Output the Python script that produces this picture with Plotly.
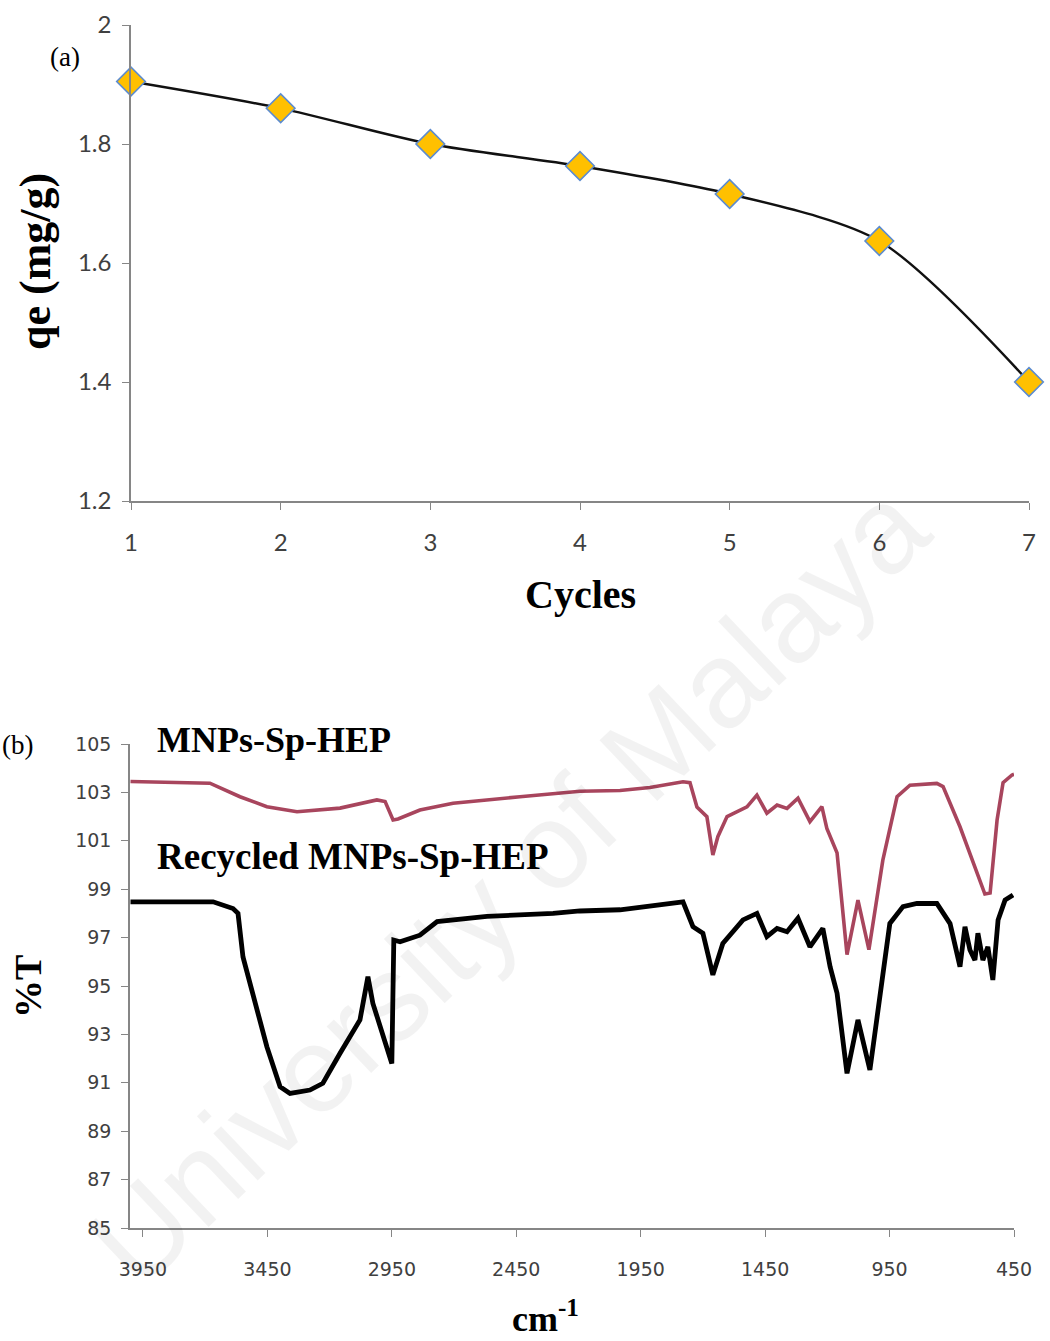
import plotly.graph_objects as go

# ---- (a) adsorption capacity over reuse cycles ----
cycles = [1, 2, 3, 4, 5, 6, 7]
qe_values = [1.905, 1.860, 1.800, 1.763, 1.716, 1.637, 1.400]

# ---- (b) FTIR spectra (wavenumber in cm-1, %T) ----
fresh_wn = [4000, 3681, 3560, 3452, 3331, 3158, 3010, 2977, 2945, 2925, 2837, 2704,
            2435, 2194, 2033, 1913, 1780, 1752, 1724, 1684, 1660, 1640, 1603, 1523,
            1483, 1443, 1402, 1362, 1318, 1270, 1222, 1202, 1161, 1121, 1077, 1033,
            977, 920, 868, 760, 735, 667, 567, 546, 518, 494, 458, 450]
fresh_t = [103.45, 103.38, 102.82, 102.41, 102.20, 102.35, 102.69, 102.62, 101.86, 101.90,
           102.27, 102.55, 102.82, 103.05, 103.08, 103.20, 103.44, 103.40, 102.40, 102.00,
           100.41, 101.17, 102.00, 102.40, 102.89, 102.14, 102.48, 102.34, 102.76, 101.79,
           102.41, 101.51, 100.50, 96.30, 98.55, 96.50, 100.20, 102.82, 103.30, 103.37,
           103.24, 101.58, 98.80, 98.84, 101.86, 103.40, 103.72, 103.75]

recycled_wn = [4000, 3668, 3588, 3568, 3548, 3508, 3452, 3399, 3359, 3279, 3227, 3158,
               3078, 3046, 3026, 2950, 2942, 2917, 2837, 2768, 2568, 2302, 2194,
               2033, 1780, 1740, 1700, 1660, 1620, 1539, 1483, 1443, 1402, 1362, 1318,
               1270, 1218, 1189, 1161, 1121, 1077, 1029, 989, 949, 896, 840, 760, 707,
               667, 647, 627, 607, 595, 575, 555, 535, 514, 486, 454]
recycled_t = [98.48, 98.48, 98.20, 98.00, 96.20, 94.70, 92.49, 90.84, 90.56, 90.70,
              90.98, 92.22, 93.60, 95.38, 94.28, 91.80, 96.90, 96.83, 97.10, 97.66,
              97.88, 98.00, 98.10, 98.15, 98.48, 97.45, 97.18, 95.46, 96.76,
              97.73, 98.00, 97.04, 97.38, 97.24, 97.80, 96.62, 97.38, 95.80, 94.70,
              91.39, 93.60, 91.53, 94.56, 97.58, 98.28, 98.41, 98.41, 97.58, 95.80,
              97.45, 96.49, 96.07, 97.18, 96.07, 96.62, 95.25, 97.73, 98.55, 98.76]

qe_ticks = [1.2, 1.4, 1.6, 1.8, 2]
t_ticks = list(range(85, 106, 2))
wn_ticks = [3950, 3450, 2950, 2450, 1950, 1450, 950, 450]

W, H = 1050, 1341


def px_x(p):
    return p / W


def px_y(p):
    return 1 - p / H


fig = go.Figure()

fig.add_trace(go.Scatter(
    x=cycles, y=qe_values, mode="lines+markers",
    line=dict(color="#111111", width=2.4, shape="spline", smoothing=0.8),
    marker=dict(symbol="diamond", size=22, color="#FFC000",
                line=dict(color="#5B8BD0", width=1.6)),
    xaxis="x", yaxis="y", showlegend=False, cliponaxis=False,
))

fig.add_trace(go.Scatter(
    x=fresh_wn, y=fresh_t, mode="lines",
    line=dict(color="#a8455d", width=3.6),
    xaxis="x2", yaxis="y2", showlegend=False,
))
fig.add_trace(go.Scatter(
    x=recycled_wn, y=recycled_t, mode="lines",
    line=dict(color="#000000", width=4.8),
    xaxis="x2", yaxis="y2", showlegend=False,
))

axis_line = "#868686"
tick_font_a = dict(family="Lato, Open Sans, sans-serif", size=24, color="#404040")
tick_font_b = dict(family="DejaVu Sans, Verdana, sans-serif", size=19, color="#404040")

common = dict(ticks="outside", ticklen=7, tickcolor=axis_line, showline=True,
              linecolor=axis_line, linewidth=1.5, showgrid=False, zeroline=False,
              automargin=False)

fig.update_layout(
    width=W, height=H, autosize=False,
    margin=dict(l=0, r=0, t=0, b=0, pad=0, autoexpand=False),
    paper_bgcolor="white", plot_bgcolor="white",
    xaxis=dict(domain=[px_x(131), px_x(1029)], anchor="y", range=[1, 7],
               tickvals=cycles, tickfont=tick_font_a, ticklabelstandoff=12, **common),
    yaxis=dict(domain=[px_y(501), px_y(25)], anchor="x", range=[1.2, 2],
               tickvals=qe_ticks, tickfont=tick_font_a, ticklabelstandoff=6, **common),
    xaxis2=dict(domain=[px_x(130), px_x(1014)], anchor="y2", range=[4002, 450],
                tickvals=wn_ticks, tickfont=tick_font_b, ticklabelstandoff=16, **common),
    yaxis2=dict(domain=[px_y(1228), px_y(744)], anchor="x2", range=[85, 105],
                tickvals=t_ticks, tickfont=tick_font_b, ticklabelstandoff=6, **common),
)

serif = "Liberation Serif, Times New Roman, serif"
labels = [
    dict(text="(a)", x=px_x(48), y=px_y(57), xanchor="left", yanchor="middle",
         font=dict(family=serif, size=27, color="black")),
    dict(text="<b>Cycles</b>", x=px_x(580), y=px_y(594), xanchor="center", yanchor="middle",
         font=dict(family=serif, size=40, color="black")),
    dict(text="<b>qe (mg/g)</b>", x=px_x(35), y=px_y(262), xanchor="center", yanchor="middle",
         textangle=-90, font=dict(family=serif, size=44, color="black")),
    dict(text="(b)", x=px_x(0), y=px_y(745), xanchor="left", yanchor="middle",
         font=dict(family=serif, size=27, color="black")),
    dict(text="<b>MNPs-Sp-HEP</b>", x=px_x(155), y=px_y(740), xanchor="left", yanchor="middle",
         font=dict(family=serif, size=36, color="black")),
    dict(text="<b>Recycled MNPs-Sp-HEP</b>", x=px_x(155), y=px_y(856), xanchor="left",
         yanchor="middle", font=dict(family=serif, size=37, color="black")),
    dict(text="<b>%T</b>", x=px_x(28), y=px_y(987), xanchor="center", yanchor="middle",
         textangle=-90, font=dict(family=serif, size=38, color="black")),
    dict(text="<b>cm<sup>-1</sup></b>", x=px_x(545), y=px_y(1316), xanchor="center",
         yanchor="middle", font=dict(family=serif, size=36, color="black")),
    dict(text="University of Malaya", x=px_x(508), y=px_y(885), xanchor="center",
         yanchor="middle", textangle=-43.5,
         font=dict(family="Liberation Sans, Arial, sans-serif", size=122,
                   color="rgba(0,0,0,0.05)")),
]
for a in labels:
    fig.add_annotation(xref="paper", yref="paper", showarrow=False, **a)

fig.write_html("out.html")
